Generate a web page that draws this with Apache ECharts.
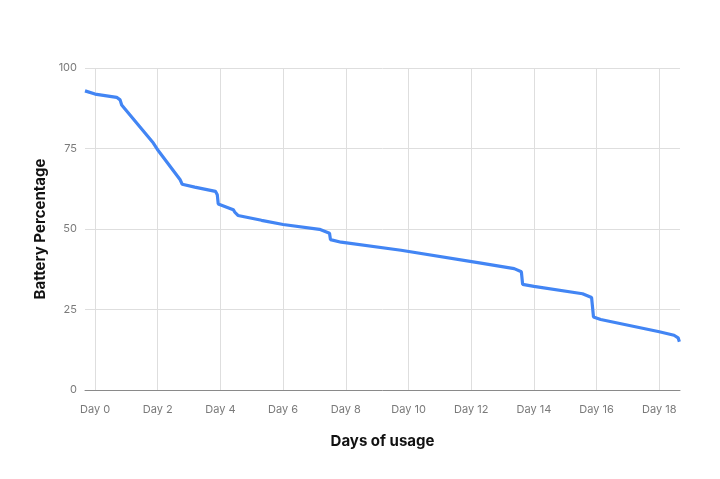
<!DOCTYPE html>
<html>
<head>
<meta charset="utf-8">
<script src="https://cdn.jsdelivr.net/npm/echarts@6/dist/echarts.min.js"></script>
<style>
  html, body { margin: 0; padding: 0; background: #fff; }
  #chart { width: 720px; height: 479px; }
</style>
</head>
<body>
<div id="chart"></div>
<script>
// battery readings: [day, percent]
var days = [-0.32, 0, 0.69, 0.8, 0.85, 1.86, 2.02, 2.71, 2.78, 3.18, 3.84, 3.9, 3.93, 4.41, 4.46, 4.56, 4.62,
  5.31, 6.0, 7.16, 7.48, 7.51, 7.85, 9.76, 12.31, 13.37, 13.6, 13.64, 14.0, 15.55, 15.84, 15.9, 16.13,
  18.0, 18.47, 18.6, 18.64];
var battery = [92.9, 91.9, 90.9, 90.1, 88.5, 76.7, 74.3, 65.4, 63.9, 63.0, 61.7, 60.6, 57.8, 56.0, 55.2, 54.2, 53.9,
  52.7, 51.4, 49.9, 48.7, 46.7, 45.9, 43.4, 39.4, 37.7, 36.7, 32.8, 32.2, 29.9, 28.7, 22.7, 21.9,
  18.1, 17.0, 16.2, 15.0];
var dayTicks = [0, 2, 4, 6, 8, 10, 12, 14, 16, 18];
var pctTicks = [0, 25, 50, 75, 100];

window.onload = function() {
  var ch = echarts.init(document.getElementById('chart'));
  var pts = days.map(function(d, i) { return [d, battery[i]]; });

  var op = {
    animation: false,
    textStyle: { fontFamily: 'Inter' },
    grid: {
      left: 85,
      right: 40,
      top: 68,
      bottom: 89
    },
    xAxis: {
      type: 'value',
      min: -0.32,
      max: 18.66,
      name: 'Days of usage',
      nameLocation: 'middle',
      nameGap: 44,
      nameTextStyle: { color: '#111', fontSize: 15, fontWeight: 'bold' },
      axisLine: { lineStyle: { color: '#8a8a8a', width: 1 } },
      axisTick: { show: false, customValues: dayTicks },
      axisLabel: {
        customValues: dayTicks,
        color: '#7a7a7a',
        fontSize: 11,
        margin: 14,
        formatter: function(v) { return 'Day ' + v; }
      },
      splitLine: { show: true, lineStyle: { color: '#dedede', width: 1 } }
    },
    yAxis: {
      type: 'value',
      min: 0,
      max: 100,
      interval: 25,
      name: 'Battery Percentage',
      nameLocation: 'middle',
      nameGap: 35,
      nameTextStyle: { color: '#111', fontSize: 15, fontWeight: 'bold' },
      axisLine: { show: false },
      axisTick: { show: false },
      axisLabel: { color: '#7a7a7a', fontSize: 11, margin: 8 },
      splitLine: { lineStyle: { color: '#dedede', width: 1 } }
    },
    series: [{
      name: 'Battery',
      type: 'line',
      data: pts,
      showSymbol: false,
      lineStyle: { color: '#4285f4', width: 3.2 },
      itemStyle: { color: '#4285f4' }
    }]
  };

  ch.setOption(op);
};
</script>
</body>
</html>
